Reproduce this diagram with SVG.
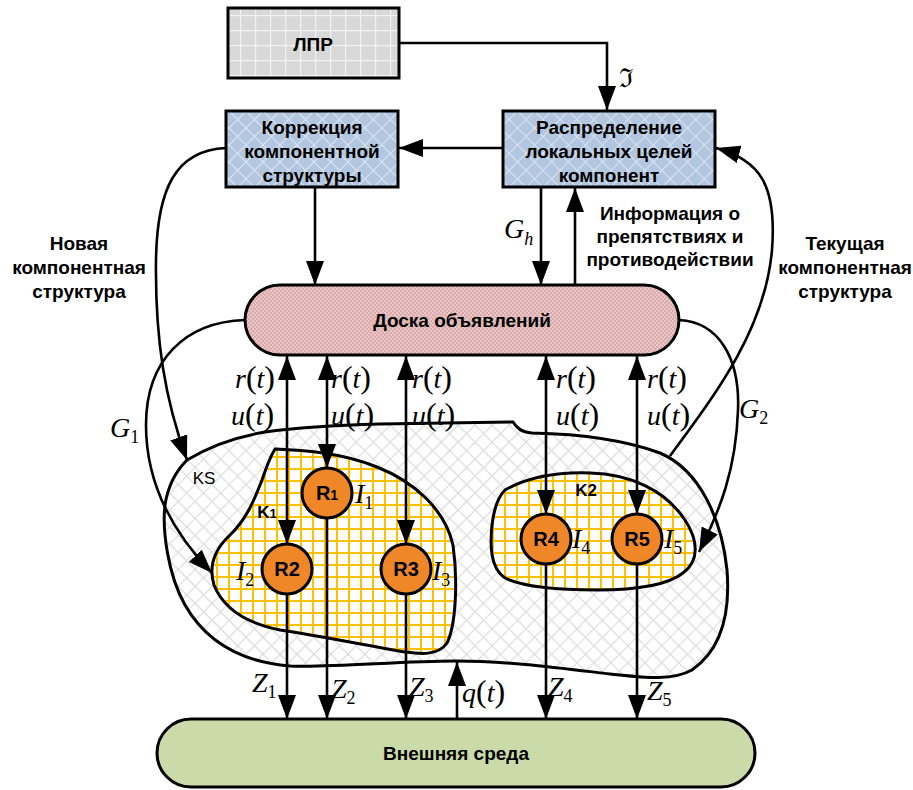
<svg xmlns="http://www.w3.org/2000/svg" width="913" height="790" viewBox="0 0 913 790">
<defs>
<style>
.box{stroke:#000;stroke-width:3}
.lbl{font-family:"Liberation Sans",Arial,sans-serif;font-weight:bold;font-size:19px;fill:#000;text-anchor:middle}
.math{font-family:"Liberation Serif","Times New Roman",serif;font-style:italic;font-size:28px;fill:#000}
.sub{font-style:normal;font-size:18px}
.subi{font-style:italic;font-size:18px}
.par{font-style:normal;font-size:32px}
.con{fill:none;stroke:#000;stroke-width:2.6}
.circ{fill:#ef8628;stroke:#000;stroke-width:3}
.rl{font-family:"Liberation Sans",Arial,sans-serif;font-weight:bold;font-size:20px;fill:#000;text-anchor:middle}
.kl{font-family:"Liberation Sans",Arial,sans-serif;font-weight:bold;font-size:17px;fill:#000;text-anchor:middle}
</style>
<pattern id="pGray" width="15" height="15" patternUnits="userSpaceOnUse">
<rect width="15" height="15" fill="#d8d8d8"/>
<path d="M0,0.5H15M0.5,0V15" stroke="#f2f2f2" stroke-width="1.5"/>
</pattern>
<pattern id="pBlue" width="12" height="12" patternUnits="userSpaceOnUse" patternTransform="rotate(45)">
<rect width="12" height="12" fill="#b3c6df"/>
<path d="M0,0.5H12M0.5,0V12" stroke="#dbe5f1" stroke-width="1"/>
</pattern>
<pattern id="pPink" width="4" height="4" patternUnits="userSpaceOnUse">
<rect width="4" height="4" fill="#dcaaaa"/>
<rect width="2" height="2" fill="#e8c6c6"/>
<rect x="2" y="2" width="2" height="2" fill="#e8c6c6"/>
</pattern>
<pattern id="pKS" width="12" height="12" patternUnits="userSpaceOnUse" patternTransform="rotate(45)">
<rect width="12" height="12" fill="#ffffff"/>
<path d="M0,0.5H12M0.5,0V12" stroke="#dcdcdc" stroke-width="1.3"/>
</pattern>
<pattern id="pYel" width="12" height="12" patternUnits="userSpaceOnUse">
<rect width="12" height="12" fill="#ffffff"/>
<path d="M0,1H12M1,0V12" stroke="#ffc000" stroke-width="2"/>
</pattern>
<marker id="arr" viewBox="0 0 24 18" refX="24" refY="9" markerWidth="24" markerHeight="18" markerUnits="userSpaceOnUse" orient="auto-start-reverse">
<path d="M0,0L24,9L0,18z" fill="#000"/>
</marker>
</defs>

<rect width="913" height="790" fill="#fff"/>

<g id="ks-region">
<path class="box" fill="url(#pKS)" d="M187,460 C210,446 235,437 265,432 C300,427 340,425 380,424 L513,422 C517,428 521,432 532,433 C580,434 625,440 660,453 C700,470 722,520 727,570 C731,620 718,652 692,670 C670,682 640,677 610,674 C560,668 510,661 455,661 C400,661 330,668 290,666 C240,662 205,640 185,605 C168,575 162,530 165,505 C168,485 175,472 187,460 Z"/>
<text x="204" y="484" style="font-family:'Liberation Sans',Arial,sans-serif;font-size:17px;text-anchor:middle">KS</text>
</g>

<g id="k1-region">
<path class="box" fill="url(#pYel)" d="M275,449 C300,450 340,452 377,467 C415,482 445,510 453,545 C458,580 456,625 447,643 C438,656 420,654 405,652 C370,646 320,636 280,630 C240,622 222,605 214,585 C208,565 216,548 230,535 C248,518 256,495 262,480 C266,468 270,457 275,449 Z"/>
<text class="kl" x="267" y="518">K<tspan font-size="13">1</tspan></text>
</g>

<g id="k2-region">
<path class="box" fill="url(#pYel)" d="M505,490 C530,476 560,472 590,473 C630,474 665,490 685,520 C698,540 700,560 683,573 C665,587 630,590 597,590 C560,590 525,588 505,578 C490,568 490,545 492,525 C494,508 498,497 505,490 Z"/>
<text class="kl" x="586" y="496">K2</text>
</g>

<g id="lpr">
<rect class="box" x="228" y="8" width="171" height="70" fill="url(#pGray)"/>
<text class="lbl" x="313" y="51">ЛПР</text>
</g>

<g id="korrekciya">
<rect class="box" x="226" y="111" width="172" height="76" fill="url(#pBlue)"/>
<text class="lbl" x="312" y="134">Коррекция</text>
<text class="lbl" x="312" y="158">компонентной</text>
<text class="lbl" x="312" y="182">структуры</text>
</g>

<g id="raspredelenie">
<rect class="box" x="503" y="111" width="212" height="76" fill="url(#pBlue)"/>
<text class="lbl" x="609" y="134">Распределение</text>
<text class="lbl" x="609" y="158">локальных целей</text>
<text class="lbl" x="609" y="182">компонент</text>
</g>

<g id="doska">
<rect class="box" x="245" y="285" width="434" height="70" rx="35" ry="35" fill="url(#pPink)"/>
<text class="lbl" x="462" y="327">Доска объявлений</text>
</g>

<g id="vneshnyaya">
<rect class="box" x="157" y="719" width="598" height="68" rx="34" ry="34" fill="#cadaa8"/>
<text class="lbl" x="456" y="760">Внешняя среда</text>
</g>

<g id="connectors">
<path class="con" d="M399,43 H607 V110" marker-end="url(#arr)"/>
<path class="con" d="M503,148 H399" marker-end="url(#arr)"/>
<path class="con" d="M315,187 V285" marker-end="url(#arr)"/>
<path class="con" d="M541,187 V285" marker-end="url(#arr)"/>
<path class="con" d="M575,285 V188" marker-end="url(#arr)"/>
<path class="con" d="M226,148 C175,150 157,190 156,260 C155,340 165,400 187,460" marker-end="url(#arr)"/>
<path class="con" d="M245,320 C185,322 146,360 146,425 C146,490 180,540 212,573" marker-end="url(#arr)"/>
<path class="con" d="M670,456 C715,395 765,330 772,250 C777,185 760,160 716,148" marker-end="url(#arr)"/>
<path class="con" d="M679,320 C720,322 740,360 738,410 C736,470 720,510 699,552" marker-end="url(#arr)"/>
<path class="con" d="M287,356 V544" marker-start="url(#arr)" marker-end="url(#arr)"/>
<path class="con" d="M327,356 V468" marker-start="url(#arr)" marker-end="url(#arr)"/>
<path class="con" d="M406,356 V544" marker-start="url(#arr)" marker-end="url(#arr)"/>
<path class="con" d="M546,356 V514" marker-start="url(#arr)" marker-end="url(#arr)"/>
<path class="con" d="M637,356 V514" marker-start="url(#arr)" marker-end="url(#arr)"/>
<path class="con" d="M287,594 V719" marker-end="url(#arr)"/>
<path class="con" d="M327,518 V719" marker-end="url(#arr)"/>
<path class="con" d="M406,594 V719" marker-end="url(#arr)"/>
<path class="con" d="M546,564 V719" marker-end="url(#arr)"/>
<path class="con" d="M637,564 V719" marker-end="url(#arr)"/>
<path class="con" d="M457,719 V662" marker-end="url(#arr)"/>
</g>

<g id="r1"><circle class="circ" cx="327" cy="493" r="25"/><text class="rl" x="327" y="500">R<tspan font-size="14">1</tspan></text></g>
<g id="r2"><circle class="circ" cx="287" cy="569" r="25"/><text class="rl" x="287" y="576">R2</text></g>
<g id="r3"><circle class="circ" cx="406" cy="569" r="25"/><text class="rl" x="406" y="576">R3</text></g>
<g id="r4"><circle class="circ" cx="546" cy="539" r="25"/><text class="rl" x="546" y="546">R4</text></g>
<g id="r5"><circle class="circ" cx="637" cy="539" r="25"/><text class="rl" x="637" y="546">R5</text></g>

<g id="labels">
<text class="lbl" x="79" y="250">Новая</text>
<text class="lbl" x="79" y="274">компонентная</text>
<text class="lbl" x="79" y="298">структура</text>
<text class="lbl" x="670" y="220">Информация о</text>
<text class="lbl" x="670" y="243">препятствиях и</text>
<text class="lbl" x="670" y="266">противодействии</text>
<text class="lbl" x="845" y="250">Текущая</text>
<text class="lbl" x="845" y="274">компонентная</text>
<text class="lbl" x="845" y="298">структура</text>
<text x="626" y="87" style="font-family:'DejaVu Serif',serif;font-size:26px;text-anchor:middle">ℑ</text>

<text class="math" x="504" y="238">G<tspan class="subi" dy="7">h</tspan></text>
<text class="math" x="110" y="437">G<tspan class="sub" dy="6">1</tspan></text>
<text class="math" x="739" y="418">G<tspan class="sub" dy="6">2</tspan></text>

<text class="math" x="235" y="388">r<tspan class="par">(</tspan>t<tspan class="par">)</tspan></text>
<text class="math" x="231" y="425">u<tspan class="par">(</tspan>t<tspan class="par">)</tspan></text>
<text class="math" x="331" y="388">r<tspan class="par">(</tspan>t<tspan class="par">)</tspan></text>
<text class="math" x="331" y="425">u<tspan class="par">(</tspan>t<tspan class="par">)</tspan></text>
<text class="math" x="412" y="388">r<tspan class="par">(</tspan>t<tspan class="par">)</tspan></text>
<text class="math" x="412" y="425">u<tspan class="par">(</tspan>t<tspan class="par">)</tspan></text>
<text class="math" x="556" y="388">r<tspan class="par">(</tspan>t<tspan class="par">)</tspan></text>
<text class="math" x="556" y="425">u<tspan class="par">(</tspan>t<tspan class="par">)</tspan></text>
<text class="math" x="647" y="388">r<tspan class="par">(</tspan>t<tspan class="par">)</tspan></text>
<text class="math" x="647" y="425">u<tspan class="par">(</tspan>t<tspan class="par">)</tspan></text>

<text class="math" x="355" y="503">I<tspan class="sub" dy="6">1</tspan></text>
<text class="math" x="236" y="580">I<tspan class="sub" dy="6">2</tspan></text>
<text class="math" x="432" y="580">I<tspan class="sub" dy="6">3</tspan></text>
<text class="math" x="572" y="548">I<tspan class="sub" dy="6">4</tspan></text>
<text class="math" x="664" y="548">I<tspan class="sub" dy="6">5</tspan></text>

<text class="math" x="252" y="692">Z<tspan class="sub" dy="6">1</tspan></text>
<text class="math" x="331" y="698">Z<tspan class="sub" dy="6">2</tspan></text>
<text class="math" x="409" y="696">Z<tspan class="sub" dy="6">3</tspan></text>
<text class="math" x="462" y="702">q<tspan class="par">(</tspan>t<tspan class="par">)</tspan></text>
<text class="math" x="548" y="696">Z<tspan class="sub" dy="6">4</tspan></text>
<text class="math" x="647" y="700">Z<tspan class="sub" dy="6">5</tspan></text>
</g>
</svg>
